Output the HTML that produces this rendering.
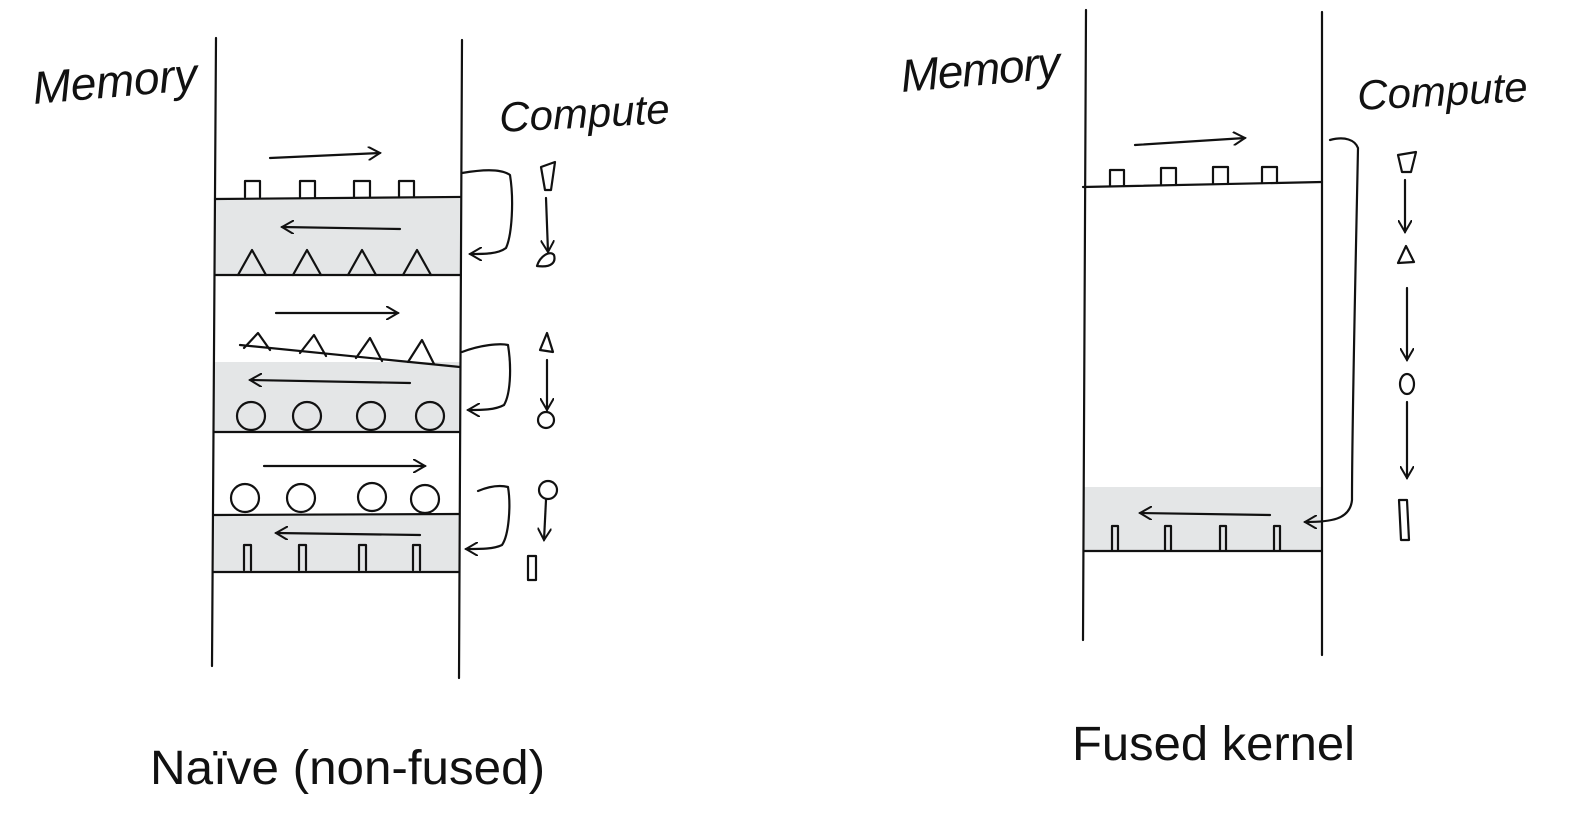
<!DOCTYPE html>
<html><head><meta charset="utf-8"><style>
html,body{margin:0;padding:0;background:#fff;}
svg{display:block}
</style></head><body>
<svg width="1590" height="813" viewBox="0 0 1590 813" xmlns="http://www.w3.org/2000/svg">
<defs>
<marker id="a" markerWidth="14" markerHeight="14" refX="12" refY="7" orient="auto" markerUnits="userSpaceOnUse">
<path d="M0,0 L12,7 L0,14" fill="none" stroke="#111" stroke-width="2"/>
</marker>
</defs>
<g fill="#e4e6e7">
<rect x="214" y="199" width="246" height="76"/>
<rect x="214" y="362" width="246" height="70"/>
<rect x="214" y="515" width="246" height="57"/>
<rect x="1084" y="487" width="238" height="64"/>
</g>
<g stroke="#111" stroke-width="2.2" fill="none" stroke-linecap="round" stroke-linejoin="round">
<path d="M216,38 L212,666"/>
<path d="M462,40 L459,678"/>
<path d="M215,199 L460,197"/>
<path d="M215,275 L460,275"/>
<path d="M240,345 L460,367"/>
<path d="M214,432 L459,432"/>
<path d="M214,515 L459,514"/>
<path d="M213,572 L459,572"/>
<path d="M270,158 L380,153" marker-end="url(#a)"/>
<path d="M400,229 L282,227" marker-end="url(#a)"/>
<path d="M276,313 L398,313" marker-end="url(#a)"/>
<path d="M410,383 L250,380" marker-end="url(#a)"/>
<path d="M264,466 L425,466" marker-end="url(#a)"/>
<path d="M420,535 L276,533" marker-end="url(#a)"/>
<path d="M245,197 V181 H260 V197 M300,197 V181 H315 V197 M354,197 V181 H370 V197 M399,197 V181 H414 V197"/>
<path d="M238,275 L252,250 L266,275 M293,275 L307,250 L321,275 M348,275 L362,250 L376,275 M403,275 L417,250 L431,275"/>
<path d="M244,348 L258,333 L270,350 M300,353 L314,335 L326,356 M356,358 L370,338 L382,361 M408,362 L422,340 L434,364"/>
<circle cx="251" cy="416" r="14"/><circle cx="307" cy="416" r="14"/><circle cx="371" cy="416" r="14"/><circle cx="430" cy="416" r="14"/>
<circle cx="245" cy="498" r="14"/><circle cx="301" cy="498" r="14"/><circle cx="372" cy="497" r="14"/><circle cx="425" cy="499" r="14"/>
<path d="M244,570 V545 H251 V570 M299,570 V545 H306 V570 M359,570 V545 H366 V570 M413,570 V545 H420 V570"/>
<path d="M462,173 C480,170 500,168 510,175 C514,200 512,235 506,248 C498,254 485,254 470,254" marker-end="url(#a)"/>
<path d="M462,352 C480,345 500,343 508,345 C512,370 510,395 504,405 C495,410 482,410 468,410" marker-end="url(#a)"/>
<path d="M478,491 C490,486 500,485 508,487 C511,505 509,535 502,545 C494,549 482,549 466,549" marker-end="url(#a)"/>
<path d="M541,167 L555,162 L551,190 L545,190 Z"/>
<path d="M546,198 L548,252" marker-end="url(#a)"/>
<path d="M537,266 C540,256 550,250 554,255 C556,262 552,268 537,266 Z"/>
<path d="M540,350 L547,333 L553,352 Z"/>
<path d="M547,360 L547,410" marker-end="url(#a)"/>
<circle cx="546" cy="420" r="8"/>
<circle cx="548" cy="490" r="9"/>
<path d="M546,500 L544,540" marker-end="url(#a)"/>
<path d="M528,556 V580 H536 V556 Z"/>
<path d="M1086,10 L1083,640"/>
<path d="M1322,12 L1322,655"/>
<path d="M1083,187 L1322,182"/>
<path d="M1084,551 L1322,551"/>
<path d="M1135,145 L1245,138" marker-end="url(#a)"/>
<path d="M1270,515 L1140,513" marker-end="url(#a)"/>
<path d="M1110,186 V170 H1124 V186 M1161,185 V168 H1176 V185 M1213,184 V167 H1228 V184 M1262,183 V167 H1277 V183"/>
<path d="M1112,550 V526 H1118 V550 M1165,550 V526 H1171 V550 M1220,550 V526 H1226 V550 M1274,550 V526 H1280 V550"/>
<path d="M1330,140 C1345,136 1355,140 1358,148 C1356,250 1352,420 1352,500 C1350,520 1330,522 1305,522" marker-end="url(#a)"/>
<path d="M1398,155 L1416,152 L1411,172 L1402,172 Z"/>
<path d="M1405,180 L1405,232" marker-end="url(#a)"/>
<path d="M1398,263 L1406,246 L1414,262 Z"/>
<path d="M1407,288 L1407,360" marker-end="url(#a)"/>
<ellipse cx="1407" cy="384" rx="7" ry="10"/>
<path d="M1407,402 L1407,478" marker-end="url(#a)"/>
<path d="M1399,500 L1407,500 L1409,540 L1401,540 Z"/>
</g>
<g font-family="'Liberation Sans', sans-serif" fill="#111">
<text x="34" y="104" font-size="46" font-style="italic" transform="rotate(-5 34 104)" textLength="165">Memory</text>
<text x="500" y="132" font-size="42" font-style="italic" transform="rotate(-3 500 132)">Compute</text>
<text x="902" y="92" font-size="46" font-style="italic" transform="rotate(-5 902 92)" textLength="160">Memory</text>
<text x="1358" y="110" font-size="42" font-style="italic" transform="rotate(-3 1358 110)">Compute</text>
<text x="150" y="784" font-size="48" textLength="395" lengthAdjust="spacingAndGlyphs">Naïve (non-fused)</text>
<text x="1072" y="760" font-size="48" textLength="283" lengthAdjust="spacingAndGlyphs">Fused kernel</text>
</g>
</svg>
</body></html>
